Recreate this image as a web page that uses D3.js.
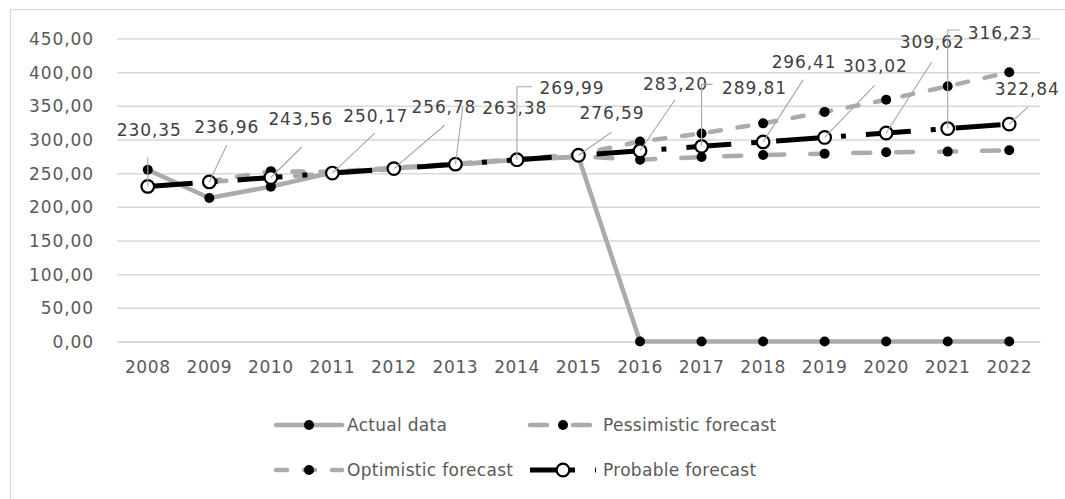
<!DOCTYPE html>
<html><head><meta charset="utf-8">
<script src="https://cdn.jsdelivr.net/npm/d3@7"></script>
<style>
html,body{margin:0;padding:0;background:#fff;}
svg{display:block;}
text{font-family:"DejaVu Sans",sans-serif;}
</style></head>
<body>
<svg id="chart" width="1065" height="499"></svg>
<script>
const years = [2008,2009,2010,2011,2012,2013,2014,2015,2016,2017,2018,2019,2020,2021,2022];
const actualData = [255,213,230,251,257,263,270,274,0,0,0,0,0,0,0];
const pessimistic = [null,237,243,250,256,263,269,275,270,274,277,279,281,282,284];
const optimistic = [null,238,253,252,258,264,271,278,297,309,324,341,359,379,400];
const probable = [230.35,236.96,243.56,250.17,256.78,263.38,269.99,276.59,283.20,289.81,296.41,303.02,309.62,316.23,322.84];
const yTicks = [0,50,100,150,200,250,300,350,400,450];
const seriesNames = ["Actual data","Pessimistic forecast","Optimistic forecast","Probable forecast"];
// label layout: [text dx, text dy, leader start dx, leader start dy, bracket]
const labelLayout = [
  [1.5,-56,0,-29,false],[17.5,-54.5,17.5,-37,false],[30,-58.5,31,-30.5,false],
  [43.4,-57,42.4,-40,false],[50,-61.6,51,-43.6,false],[59.3,-56,7.3,-57,false],
  [55,-72,15,-73,true],[33.5,-42,33,-23,false],[35.5,-67,35,-51,false],
  [53,-58,11,-62,true],[41,-79.5,40,-62,false],[50.7,-71,50,-52,false],
  [46,-90.5,45.6,-71,false],[52.6,-96,12,-98.6,true],[18,-35,18.6,-17,false]
];

const svg = d3.select("#chart");
const gray = "#ABABAB";
const fmt = v => d3.format(".2f")(v).replace(".", ",");

svg.append("rect").attr("x",0).attr("y",0).attr("width",1065).attr("height",499).attr("fill","#fff");
svg.append("rect").attr("x",10.5).attr("y",9.5).attr("width",1100).attr("height",600)
  .attr("fill","none").attr("stroke","#D9D9D9").attr("stroke-width",1.2);

const x = d3.scaleBand().domain(years).range([117,1040]).padding(0);
const cx = d => x(d) + x.bandwidth()/2;
const y = d3.scaleLinear().domain([0,450]).range([341.5,38.5]);

// gridlines
const yAxis = d3.axisLeft(y).tickValues(yTicks).tickSize(-(1040-117)).tickFormat(fmt).tickPadding(24);
const gy = svg.append("g").attr("transform","translate(117,0)").call(yAxis);
gy.select(".domain").remove();
gy.selectAll(".tick line").attr("stroke","#D9D9D9").attr("stroke-width",1.5);
gy.selectAll(".tick text").attr("fill","#595959").style("font-size","17px").style("letter-spacing","0.9px")
  .attr("x",-23).attr("dy","0.35em");

const xAxis = d3.axisBottom(x).tickSize(0).tickPadding(0);
const gx = svg.append("g").attr("transform","translate(0,341.5)").call(xAxis);
gx.select(".domain").attr("stroke","#D9D9D9").attr("stroke-width",1.5);
gx.selectAll(".tick text").attr("fill","#595959").style("font-size","17px").style("letter-spacing","0.6px")
  .attr("y",26).attr("dy","0.35em");

const line = d3.line().defined(d => d.v != null).x(d => cx(d.yr)).y(d => y(d.v));
const toPts = arr => years.map((yr,i) => ({yr, v: arr[i]}));

const styles = [
  {data: actualData, stroke: gray, width: 4.5, dash: null, cap: "round", marker: "dot"},
  {data: pessimistic, stroke: gray, width: 4.5, dash: "17,26", cap: "round", marker: "dot"},
  {data: optimistic, stroke: gray, width: 4.5, dash: "11,17", cap: "round", marker: "dot"},
  {data: probable, stroke: "#000", width: 5, dash: "45,20,5,20", cap: "butt", marker: "circle"}
];

styles.forEach(s => {
  const pts = toPts(s.data);
  svg.append("path").datum(pts).attr("d", line).attr("fill","none")
    .attr("stroke", s.stroke).attr("stroke-width", s.width)
    .attr("stroke-dasharray", s.dash).attr("stroke-linecap", s.cap).attr("stroke-linejoin","round");
  const m = svg.append("g").selectAll("circle").data(pts.filter(d => d.v != null)).join("circle")
    .attr("cx", d => cx(d.yr)).attr("cy", d => y(d.v));
  if (s.marker === "dot") m.attr("r",5).attr("fill","#000");
  else m.attr("r",6.3).attr("fill","#fff").attr("stroke","#000").attr("stroke-width",2.2);
});

// data labels for probable
const lg = svg.append("g");
probable.forEach((v,i) => {
  const px = cx(years[i]), py = y(v);
  const [dx,dy,lx,ly,br] = labelLayout[i];
  if (br) {
    lg.append("path").attr("d", `M${px+lx},${py+ly}H${px}V${py}`).attr("fill","none")
      .attr("stroke","#A6A6A6").attr("stroke-width",1.1);
  } else {
    lg.append("line").attr("x1",px+lx).attr("y1",py+ly).attr("x2",px).attr("y2",py)
      .attr("stroke","#A6A6A6").attr("stroke-width",1.1);
  }
  lg.append("text").attr("x",px+dx).attr("y",py+dy).attr("dy","0.35em").attr("text-anchor","middle")
    .attr("fill","#404040").style("font-size","17px").style("letter-spacing","0.9px").text(fmt(v));
});

// legend
const legendPos = [[276,425],[530,425],[276,470],[530,470]];
const legG = svg.append("g");
styles.forEach((s,i) => {
  const [lx0,ly0] = legendPos[i];
  legG.append("line").attr("x1",lx0).attr("x2",lx0+66).attr("y1",ly0).attr("y2",ly0)
    .attr("stroke", s.stroke).attr("stroke-width", s.width)
    .attr("stroke-dasharray", s.dash).attr("stroke-linecap", s.cap);
  const mc = legG.append("circle").attr("cx",lx0+33).attr("cy",ly0);
  if (s.marker === "dot") mc.attr("r",5).attr("fill","#000");
  else mc.attr("r",6.3).attr("fill","#fff").attr("stroke","#000").attr("stroke-width",2.2);
  legG.append("text").attr("x", lx0 + (i%2===0 ? 71 : 73)).attr("y",ly0).attr("dy","0.35em")
    .attr("fill","#595959").style("font-size","17px").style("letter-spacing","0.3px").text(seriesNames[i]);
});
</script>
</body></html>
